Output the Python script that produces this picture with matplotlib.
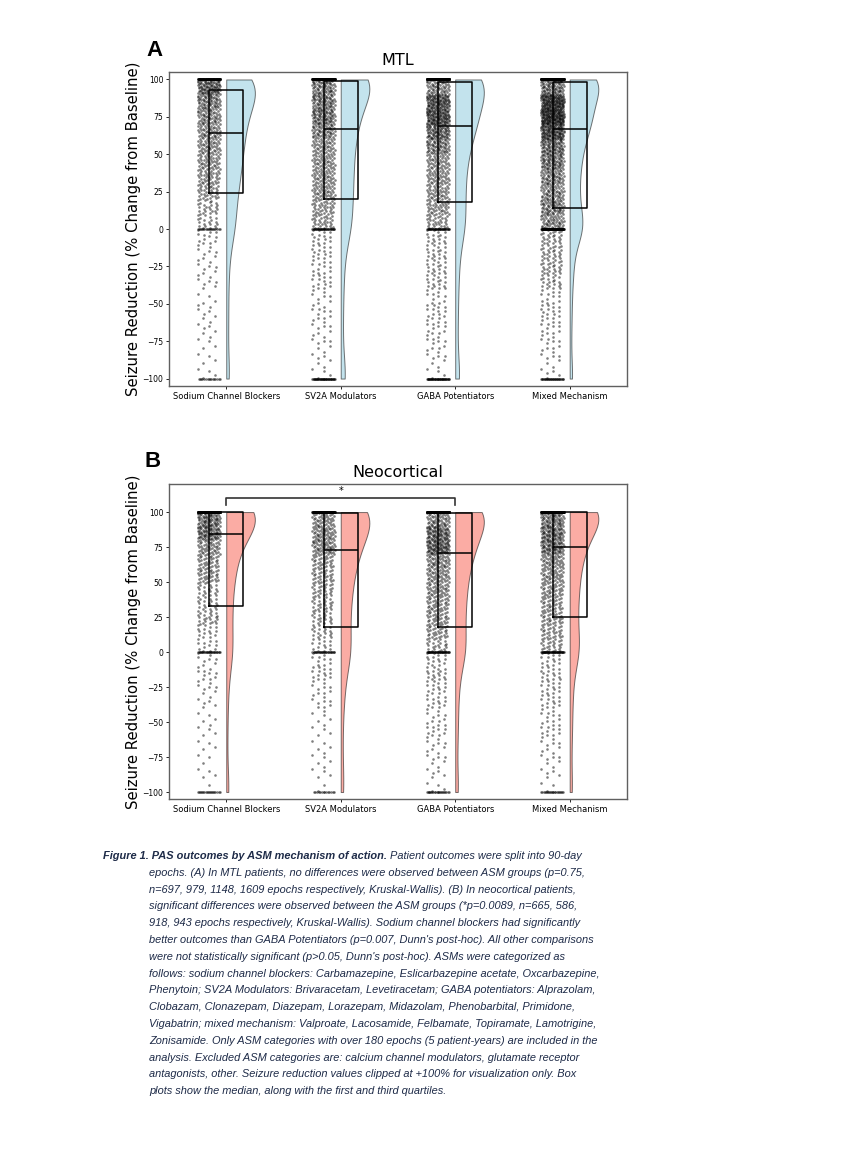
import numpy as np
import matplotlib.pyplot as plt

plt.rcParams['font.family'] = ['DejaVu Sans']

# ========================
# data
# ========================
groups = ['Sodium Channel Blockers', 'SV2A Modulators', 'GABA Potentiators', 'Mixed Mechanism']

# epochs per 10-point bin of seizure reduction, from [-100,-90) up to [90,100)
mtl_bins_sodium = [4, 4, 5, 6, 7, 4, 8, 8, 8, 12, 20, 25, 35, 40, 45, 50, 55, 60, 70, 95]
mtl_bins_sv2a = [5, 6, 8, 8, 10, 8, 14, 12, 15, 15, 35, 40, 50, 50, 50, 50, 65, 80, 75, 70]
mtl_bins_gaba = [5, 8, 10, 12, 14, 10, 18, 18, 18, 18, 35, 45, 45, 50, 50, 70, 90, 122, 115, 60]
mtl_bins_mixed = [6, 8, 10, 12, 15, 12, 22, 28, 28, 28, 60, 70, 60, 67, 80, 85, 130, 175, 160, 80]
# epochs sitting exactly on -100 / 0 / +100
mtl_at_minus100 = [16, 43, 45, 33]
mtl_at_zero = [20, 35, 40, 100]
mtl_at_100 = [100, 235, 250, 340]

neo_bins_sodium = [1, 4, 3, 4, 5, 4, 6, 8, 10, 8, 12, 15, 25, 20, 20, 35, 35, 45, 80, 75]
neo_bins_sv2a = [2, 5, 5, 4, 5, 5, 9, 9, 14, 10, 14, 20, 22, 25, 28, 32, 35, 58, 55, 45]
neo_bins_gaba = [4, 6, 8, 8, 12, 9, 13, 14, 18, 15, 25, 35, 38, 40, 45, 50, 55, 95, 85, 55]
neo_bins_mixed = [3, 6, 8, 8, 12, 10, 14, 14, 16, 14, 28, 32, 36, 35, 40, 45, 50, 80, 80, 70]
neo_at_minus100 = [20, 14, 23, 22]
neo_at_zero = [30, 30, 45, 50]
neo_at_100 = [200, 140, 220, 270]

# box plots: first quartile, median, third quartile
mtl_q1 = [24, 20, 18, 14]
mtl_median = [64, 67, 69, 67]
mtl_q3 = [93, 99, 98, 98]
neo_q1 = [33, 18, 18, 25]
neo_median = [84, 73, 71, 75]
neo_q3 = [100, 99, 99, 100]

caption_head = 'Figure 1. PAS outcomes by ASM mechanism of action.'
caption_lines = [
    ' Patient outcomes were split into 90-day',
    'epochs. (A) In MTL patients, no differences were observed between ASM groups (p=0.75,',
    'n=697, 979, 1148, 1609 epochs respectively, Kruskal-Wallis). (B) In neocortical patients,',
    'significant differences were observed between the ASM groups (*p=0.0089, n=665, 586,',
    '918, 943 epochs respectively, Kruskal-Wallis). Sodium channel blockers had significantly',
    "better outcomes than GABA Potentiators (p=0.007, Dunn's post-hoc). All other comparisons",
    "were not statistically significant (p>0.05, Dunn's post-hoc). ASMs were categorized as",
    'follows: sodium channel blockers: Carbamazepine, Eslicarbazepine acetate, Oxcarbazepine,',
    'Phenytoin; SV2A Modulators: Brivaracetam, Levetiracetam; GABA potentiators: Alprazolam,',
    'Clobazam, Clonazepam, Diazepam, Lorazepam, Midazolam, Phenobarbital, Primidone,',
    'Vigabatrin; mixed mechanism: Valproate, Lacosamide, Felbamate, Topiramate, Lamotrigine,',
    'Zonisamide. Only ASM categories with over 180 epochs (5 patient-years) are included in the',
    'analysis. Excluded ASM categories are: calcium channel modulators, glutamate receptor',
    'antagonists, other. Seizure reduction values clipped at +100% for visualization only. Box',
    'plots show the median, along with the first and third quartiles.',
]

A1, A2 = 0.7548776662, 0.5698402910   # R2 low-discrepancy steps
GOLD = 0.6180339887


def expand(bins, n_low, n_zero, n_high):
    """one value per epoch (and its strip offset): bins filled evenly, plus the stacks"""
    vals, offs = [], []
    for lo, k in zip(range(-100, 100, 10), bins):
        j = np.arange(k)
        vals.extend(lo + 10 * ((0.5 + j * A2) % 1))
        offs.extend((0.5 + j * A1) % 1)
    for v, k in [(-100, n_low), (0, n_zero), (100, n_high)]:
        vals.extend([v] * k)
        offs.extend((0.5 + np.arange(k) * GOLD) % 1)
    return np.array(vals, dtype=float), np.array(offs)


def raincloud(ax, data, q1, med, q3, color):
    pos = np.arange(len(data))
    values = [d[0] for d in data]
    # strip of points, centred on the left edge of the box
    for p, (vals, offs) in zip(pos, data):
        ax.scatter(p - 0.15 + (offs - 0.5) * 0.2, vals, s=3.5, color='black',
                   alpha=0.5, linewidths=0, zorder=1)
    # half violins on the right
    parts = ax.violinplot(values, positions=pos, widths=0.5, showextrema=False)
    for p, body in zip(pos, parts['bodies']):
        v = body.get_paths()[0].vertices
        v[:, 0] = np.clip(v[:, 0], p, np.inf)
        body.set_alpha(None)
        body.set_facecolor(color)
        body.set_edgecolor((0.1, 0.1, 0.1, 0.6))
        body.set_linewidth(0.7)
        body.set_zorder(2)
    stats = [{'q1': a, 'med': m, 'q3': b, 'whislo': a, 'whishi': b, 'fliers': []}
             for a, m, b in zip(q1, med, q3)]
    ax.bxp(stats, positions=pos, widths=0.3, showcaps=False, showfliers=False,
           boxprops=dict(color='black', linewidth=1.1),
           medianprops=dict(color='black', linewidth=1.1),
           whiskerprops=dict(linewidth=0), zorder=3)
    ax.set_xlim(-0.5, len(data) - 0.5)
    ax.set_xticks(pos)
    ax.set_xticklabels(groups, fontsize=6)
    ax.set_yticks(range(-100, 101, 25))
    ax.tick_params(axis='y', labelsize=5.5, length=2.5, width=0.6, pad=1.5)
    ax.tick_params(axis='x', length=2.5, width=0.6, pad=2)
    for s in ax.spines.values():
        s.set_color('#606060')
        s.set_linewidth(1.0)
    ax.set_ylabel('Seizure Reduction (% Change from Baseline)', fontsize=10.7, labelpad=1)


mtl = [expand(b, l, z, h) for b, l, z, h in zip(
    [mtl_bins_sodium, mtl_bins_sv2a, mtl_bins_gaba, mtl_bins_mixed],
    mtl_at_minus100, mtl_at_zero, mtl_at_100)]
neo = [expand(b, l, z, h) for b, l, z, h in zip(
    [neo_bins_sodium, neo_bins_sv2a, neo_bins_gaba, neo_bins_mixed],
    neo_at_minus100, neo_at_zero, neo_at_100)]

fig = plt.figure(figsize=(8.64, 11.52), dpi=100)

ax1 = fig.add_axes([0.1956, 0.6649, 0.530, 0.2726])
raincloud(ax1, mtl, mtl_q1, mtl_median, mtl_q3, (0.68, 0.85, 0.90, 0.72))
ax1.set_ylim(-105, 105)
ax1.set_title('MTL', fontsize=11.5, pad=5)

ax2 = fig.add_axes([0.1956, 0.3064, 0.530, 0.2734])
raincloud(ax2, neo, neo_q1, neo_median, neo_q3, (0.98, 0.50, 0.45, 0.65))
ax2.set_ylim(-105, 120)
ax2.set_title('Neocortical', fontsize=11.5, pad=5)
# significance bracket, sodium channel blockers vs GABA potentiators
ax2.plot([0, 0, 2, 2], [105, 110, 110, 105], color='#333333', lw=1.2, zorder=4)
ax2.text(1, 111.5, '*', ha='center', va='bottom', fontsize=7)

fig.text(146 / 864, 1 - 56 / 1152, 'A', fontsize=16, fontweight='bold',
         family='Liberation Sans', va='baseline')
fig.text(144 / 864, 1 - 467 / 1152, 'B', fontsize=16, fontweight='bold',
         family='Liberation Sans', va='baseline')

# caption
cap_color = '#1e2b48'
cap_kw = dict(fontsize=7.95, family='Liberation Sans', style='italic',
              color=cap_color, va='baseline')
y0 = 859
step = 16.8
head = fig.text(103 / 864, 1 - y0 / 1152, caption_head, fontweight='bold', **cap_kw)
fig.canvas.draw()
bb = head.get_window_extent()
fig.text(bb.x1 / 864, 1 - y0 / 1152, caption_lines[0], **cap_kw)
for i, line in enumerate(caption_lines[1:], start=1):
    fig.text(149 / 864, 1 - (y0 + i * step) / 1152, line, **cap_kw)

fig.savefig('out.png', dpi=100)
